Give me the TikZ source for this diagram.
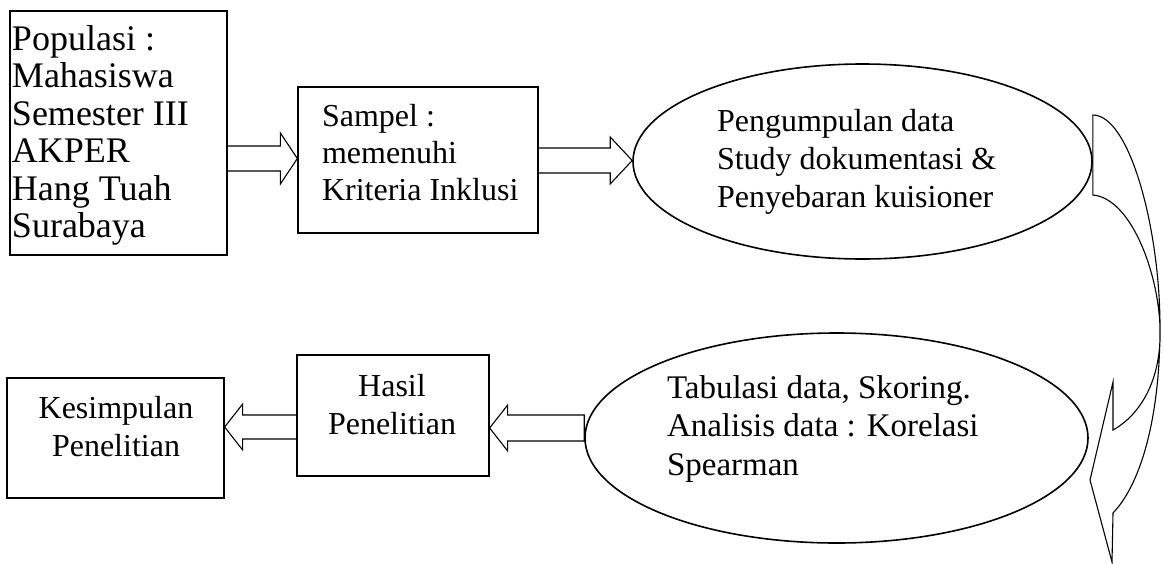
\documentclass[tikz,border=0pt]{standalone}
\usepackage{fontspec}
\setmainfont{Liberation Serif}
\usetikzlibrary{shapes.geometric,calc}
\begin{document}
\begin{tikzpicture}[x=1pt,y=-1pt,
  box/.style={draw,rectangle,inner sep=0pt,line width=1.3pt},
  ell/.style={draw,ellipse,inner sep=0pt,line width=1.6pt},
  blk/.style={draw,line width=1.1pt,line join=miter},
  txt/.style={inner sep=0pt,outer sep=0pt}]
\fill[white] (0,0) rectangle (1164,563);
\useasboundingbox (0,0) rectangle (1164,563);

% boxes
\node[box,minimum width=217pt,minimum height=244pt] (b1) at (118.5,133) {};
\node[box,minimum width=240pt,minimum height=146pt] (b2) at (418,160) {};
\node[box,minimum width=192pt,minimum height=121pt] (b3) at (393,415.5) {};
\node[box,minimum width=217pt,minimum height=120pt] (b4) at (115.5,438) {};
% ellipses
\node[ell,minimum width=459pt,minimum height=195pt] (e1) at (862.5,161.5) {};
\node[ell,minimum width=503pt,minimum height=210pt] (e2) at (836.5,438) {};

% texts
\node[txt,anchor=base west] (t1) at (12,50) {\fontsize{36}{37.5}\selectfont\renewcommand\arraystretch{1}%
  \begin{tabular}[t]{@{}l@{}}Populasi :\\Mahasiswa\\Semester III\\AKPER\\Hang Tuah\\Surabaya\end{tabular}};
\node[txt,anchor=base west] (t2) at (322,126) {\fontsize{32}{37}\selectfont\renewcommand\arraystretch{1}%
  \begin{tabular}[t]{@{}l@{}}Sampel :\\memenuhi\\Kriteria Inklusi\end{tabular}};
\node[txt,anchor=base west] (t3) at (717,131) {\fontsize{32}{38}\selectfont\renewcommand\arraystretch{1}%
  \begin{tabular}[t]{@{}l@{}}Pengumpulan data\\Study dokumentasi \&\\Penyebaran kuisioner\end{tabular}};
\node[txt,anchor=base west] (t4) at (667,398) {\fontsize{33}{38.5}\selectfont\renewcommand\arraystretch{1}%
  \begin{tabular}[t]{@{}l@{}}Tabulasi data, Skoring.\\Analisis data : Korelasi\\Spearman\end{tabular}};
\node[txt,anchor=base] (t5) at (392,396) {\fontsize{32}{38}\selectfont\renewcommand\arraystretch{1}%
  \begin{tabular}[t]{@{}c@{}}Hasil\\Penelitian\end{tabular}};
\node[txt,anchor=base] (t6) at (116,418) {\fontsize{32}{38}\selectfont\renewcommand\arraystretch{1}%
  \begin{tabular}[t]{@{}c@{}}Kesimpulan\\Penelitian\end{tabular}};

% block arrow b1 -> b2
\draw[blk] (b1.east |- 0,146) -- ($(b2.west |- 0,146)+(-17,0)$) -- ($(b2.west |- 0,133)+(-17,0)$)
  -- (b2.west |- 0,158.5) -- ($(b2.west |- 0,184)+(-17,0)$) -- ($(b2.west |- 0,171)+(-17,0)$) -- (b1.east |- 0,171);
% block arrow b2 -> e1
\draw[blk] (b2.east |- 0,148) -- ($(e1.west |- 0,148)+(-22,0)$) -- ($(e1.west |- 0,137)+(-22,0)$)
  -- (e1.west |- 0,160.5) -- ($(e1.west |- 0,184)+(-22,0)$) -- ($(e1.west |- 0,173)+(-22,0)$) -- (b2.east |- 0,173);
% block arrow e2 -> b3
\draw[blk] (e2.west |- 0,415) -- ($(b3.east |- 0,415)+(18,0)$) -- ($(b3.east |- 0,405)+(18,0)$)
  -- (b3.east |- 0,428) -- ($(b3.east |- 0,451)+(18,0)$) -- ($(b3.east |- 0,441)+(18,0)$) -- (e2.west |- 0,441) -- cycle;
% block arrow b3 -> b4
\draw[blk] (b3.west |- 0,415) -- ($(b4.east |- 0,415)+(18,0)$) -- ($(b4.east |- 0,404)+(18,0)$)
  -- (b4.east |- 0,427) -- ($(b4.east |- 0,450)+(18,0)$) -- ($(b4.east |- 0,439)+(18,0)$) -- (b3.west |- 0,439);

% curved block arrow from e1 downwards
\coordinate (tipc) at (1112,562);
\draw[blk] (e1.east |- 0,115) .. controls (1130,115) and (1160,230) .. (1160,327)
  .. controls (1160,420) and (1140,485) .. (1113,513) -- (tipc) -- (1090,480) -- (1113,382) -- (1113,430)
  .. controls (1140,415) and (1162,380) .. (1160,327)
  .. controls (1158,270) and (1130,198) .. (e1.east |- 0,195) -- cycle;
\end{tikzpicture}
\end{document}
